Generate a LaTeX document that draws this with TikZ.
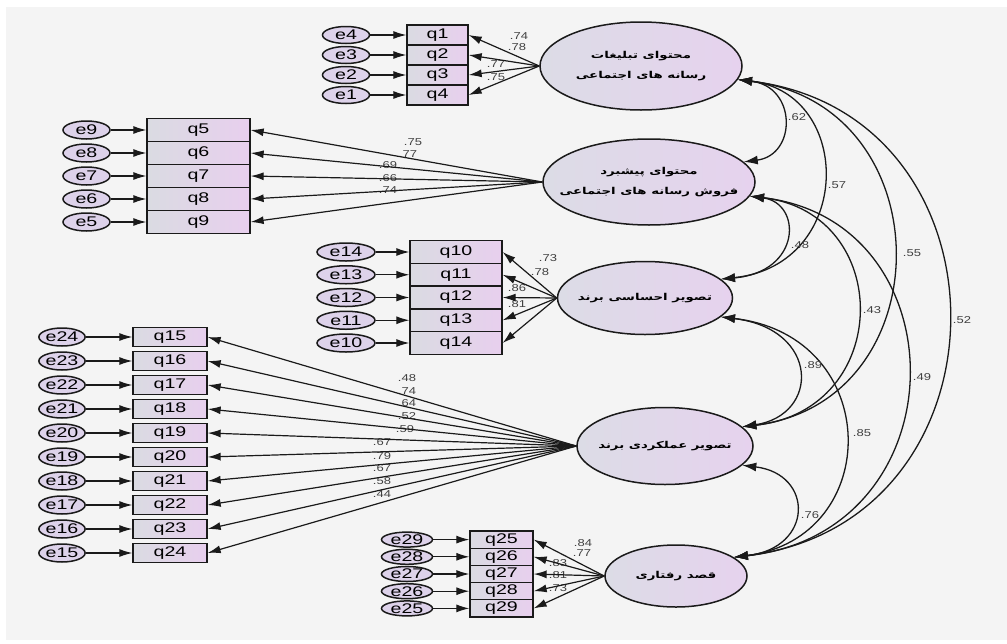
\documentclass[tikz,border=0pt]{standalone}
\usepackage{fontspec}
\usetikzlibrary{arrows.meta,shapes.geometric}
\TeXXeTstate=1
\newfontfamily\amos[FakeStretch=1.4]{Liberation Sans}
\newfontfamily\amosl[FakeStretch=1.3]{Liberation Sans}
\newfontfamily\fafont[Script=Arabic,FakeStretch=1.4]{DejaVu Sans}
\newcommand{\fa}[1]{{\fafont\bfseries\beginR #1\endR}}
\definecolor{bg}{HTML}{F4F4F4}
\definecolor{latL}{HTML}{DCDCE6}
\definecolor{latR}{HTML}{E6D2EE}
\definecolor{boxL}{HTML}{DADBE2}
\definecolor{boxR}{HTML}{E8CFEE}
\definecolor{errF}{HTML}{DDD2EA}
\definecolor{ink}{HTML}{1A1A1A}
\tikzset{
  lat/.style={ellipse, draw=ink, line width=1.5pt, left color=latL, right color=latR,
    inner xsep=-20pt, inner ysep=0pt, align=center, font=\fontsize{9.5}{20}\selectfont},
  obs/.style={rectangle, draw=ink, line width=1.3pt, left color=boxL, right color=boxR,
    inner sep=0pt, font=\amos\fontsize{14}{14}\selectfont},
  err/.style={ellipse, draw=ink, line width=1.5pt, fill=errF, inner sep=0pt,
    font=\amos\fontsize{14}{14}\selectfont},
  lbl/.style={font=\amosl\fontsize{10}{10}\selectfont, text=black!75, inner sep=0pt},
  arr/.style={draw=ink, line width=1.2pt, -{Latex[length=13pt,width=8pt]}},
  cor/.style={draw=ink, line width=1.3pt, {Latex[length=14pt,width=9pt]}-{Latex[length=14pt,width=9pt]}},
}
\begin{document}
\begin{tikzpicture}[x=1pt,y=1pt]
\useasboundingbox (0,0) rectangle (1007,-643);
\fill[white] (0,0) rectangle (1007,-643);
\fill[bg] (6,-7) rectangle (1007,-640);

% latent factors
\node[lat, minimum width=202pt, minimum height=88pt] (L1) at (641,-66)
  {\fa{محتوای تبلیغات}\\\fa{رسانه های اجتماعی}};
\node[lat, minimum width=212pt, minimum height=86pt] (L2) at (649,-182)
  {\fa{محتوای پیشبرد}\\\fa{فروش رسانه های اجتماعی}};
\node[lat, minimum width=175pt, minimum height=73pt] (L3) at (645,-298)
  {\fa{تصویر احساسی برند}};
\node[lat, minimum width=176pt, minimum height=77pt] (L4) at (665,-446)
  {\fa{تصویر عملکردی برند}};
\node[lat, minimum width=142pt, minimum height=62pt] (L5) at (676,-576)
  {\fa{قصد رفتاری}};

% loading labels
\node[lbl] (w1) at (519,-36) {.74};
\node[lbl] (w2) at (517,-47) {.78};
\node[lbl] (w3) at (496,-64) {.77};
\node[lbl] (w4) at (496,-77) {.75};
\node[lbl] (w5) at (413,-142) {.75};
\node[lbl] (w6) at (408,-154) {.77};
\node[lbl] (w7) at (388,-165) {.69};
\node[lbl] (w8) at (388,-178) {.66};
\node[lbl] (w9) at (388,-190) {.74};
\node[lbl] (w10) at (548,-258) {.73};
\node[lbl] (w11) at (540,-272) {.78};
\node[lbl] (w12) at (517,-288) {.86};
\node[lbl] (w13) at (517,-304) {.81};
\node[lbl] (w15) at (407,-378) {.48};
\node[lbl] (w16) at (407,-391) {.74};
\node[lbl] (w17) at (407,-403) {.64};
\node[lbl] (w18) at (407,-416) {.52};
\node[lbl] (w19) at (405,-429) {.59};
\node[lbl] (w20) at (382,-442) {.67};
\node[lbl] (w21) at (382,-456) {.79};
\node[lbl] (w22) at (382,-468) {.67};
\node[lbl] (w23) at (382,-481) {.58};
\node[lbl] (w24) at (382,-494) {.44};
\node[lbl] (w25) at (583,-543) {.84};
\node[lbl] (w26) at (582,-553) {.77};
\node[lbl] (w27) at (558,-563) {.83};
\node[lbl] (w28) at (558,-575) {.81};
\node[lbl] (w29) at (558,-588) {.73};

% group 1
\foreach \i/\e in {1/4,2/3,3/2,4/1}{
  \node[obs, minimum width=61pt, minimum height=20pt] (q\i) at (437.5,{-35-20*(\i-1)}) {q\i};
  \node[err, minimum width=47pt, minimum height=17pt] (e\e) at (346,{-35-20*(\i-1)}) {e\e};
  \draw[arr] (e\e) -- (q\i);
  \draw[arr] (L1.west) -- (q\i.east);
}
% group 2
\foreach \i/\e [count=\k from 0] in {5/9,6/8,7/7,8/6,9/5}{
  \node[obs, minimum width=103pt, minimum height=23pt] (q\i) at (198.5,{-130-23*\k}) {q\i};
  \node[err, minimum width=47pt, minimum height=18pt] (e\e) at (86.5,{-130-23*\k}) {e\e};
  \draw[arr] (e\e) -- (q\i);
  \draw[arr] (L2.west) -- (q\i.east);
}
% group 3
\foreach \i/\e [count=\k from 0] in {10/14,11/13,12/12,13/11,14/10}{
  \node[obs, minimum width=92pt, minimum height=22.75pt] (q\i) at (456,{-252-22.75*\k}) {q\i};
  \node[err, minimum width=58pt, minimum height=18pt] (e\e) at (346,{-252-22.75*\k}) {e\e};
  \draw[arr] (e\e) -- (q\i);
  \draw[arr] (L3.west) -- (q\i.east);
}
% group 4
\foreach \i/\e [count=\k from 0] in {15/24,16/23,17/22,18/21,19/20,20/19,21/18,22/17,23/16,24/15}{
  \node[obs, minimum width=74pt, minimum height=19pt] (q\i) at (170,{-337-24*\k}) {q\i};
  \node[err, minimum width=41pt, minimum height=18pt] (e\e) at (62,{-337-24*\k}) {e\e};
  \draw[arr] (e\e) -- (q\i);
  \draw[arr] (L4.west) -- (q\i.east);
}
% group 5
\foreach \i/\e [count=\k from 0] in {25/29,26/28,27/27,28/26,29/25}{
  \node[obs, minimum width=63pt, minimum height=17.2pt] (q\i) at (501.5,{-539.6-17.2*\k}) {q\i};
  \node[err, minimum width=51pt, minimum height=15pt] (e\e) at (407,{-539.6-17.2*\k}) {e\e};
  \draw[arr] (e\e) -- (q\i);
  \draw[arr] (L5.west) -- (q\i.east);
}

% correlations between factors
\draw[cor] (L1.-8) .. controls (797,-86.5) and (797,-155) .. (L2.12);
\draw[cor] (L1.-8) .. controls (854,-93.5) and (854,-265) .. (L3.14);
\draw[cor] (L1.-8) .. controls (944,-104.5) and (944,-402) .. (L4.14);
\draw[cor] (L1.-8) .. controls (1018,-113.5) and (1018,-523) .. (L5.18);
\draw[cor] (L2.-8) .. controls (802,-203) and (802,-272) .. (L3.14);
\draw[cor] (L2.-8) .. controls (894,-213) and (894,-410) .. (L4.14);
\draw[cor] (L2.-8) .. controls (962,-221) and (962,-532) .. (L5.18);
\draw[cor] (L3.-14) .. controls (820,-329) and (820,-415) .. (L4.14);
\draw[cor] (L3.-14) .. controls (884,-336) and (884,-538) .. (L5.18);
\draw[cor] (L4.-14) .. controls (814,-474) and (814,-548) .. (L5.18);

% correlation labels
\node[lbl] (r12) at (797,-117) {.62};
\node[lbl] (r13) at (837,-185) {.57};
\node[lbl] (r14) at (912,-253) {.55};
\node[lbl] (r15) at (962,-320) {.52};
\node[lbl] (r23) at (800,-245) {.48};
\node[lbl] (r24) at (872,-310) {.43};
\node[lbl] (r25) at (922,-377) {.49};
\node[lbl] (r34) at (813,-365) {.89};
\node[lbl] (r35) at (862,-433) {.85};
\node[lbl] (r45) at (810,-515) {.76};
\end{tikzpicture}
\end{document}
